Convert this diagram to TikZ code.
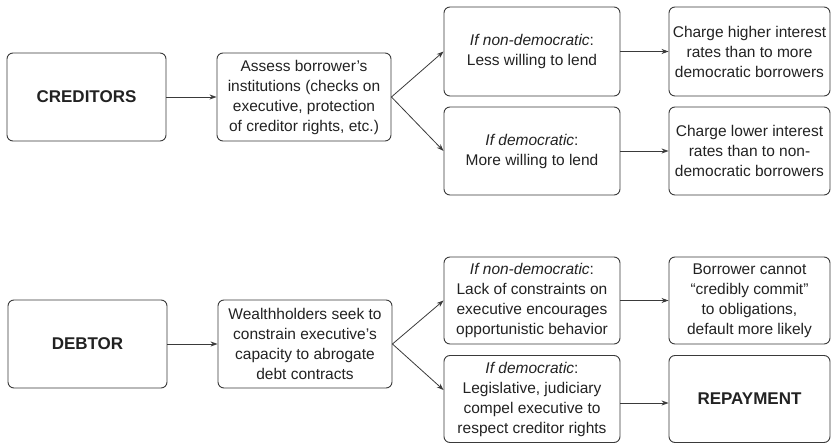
\documentclass[tikz,border=0pt]{standalone}
\usepackage{fontspec}
\setmainfont{Liberation Sans}
\usetikzlibrary{arrows.meta}
\definecolor{linec}{HTML}{3A3A3A}
\definecolor{textc}{HTML}{222222}
\begin{document}
\begin{tikzpicture}[x=1pt,y=-1pt,
  box/.style={draw=linec, line width=0.9pt, rounded corners=6pt, align=center,
    inner sep=0pt, text=textc, font=\fontsize{15.5}{20}\selectfont},
  bigbox/.style={box, font=\fontsize{17}{20}\selectfont\bfseries},
  arr/.style={draw=linec, line width=0.8pt, -{Stealth[length=7pt,width=5pt]}}]
\useasboundingbox (0,0) rectangle (831,443);
% top group
\node[bigbox, minimum width=159pt, minimum height=88pt] (cred) at (86.5,97) {CREDITORS};
\node[box, minimum width=174pt, minimum height=88pt] (assess) at (304,97)
  {Assess borrower’s\\institutions (checks on\\executive, protection\\of creditor rights, etc.)};
\node[box, minimum width=176pt, minimum height=89pt] (nd1) at (532,51.5)
  {\textit{If non-democratic}:\\Less willing to lend};
\node[box, minimum width=176pt, minimum height=88pt] (d1) at (532,151)
  {\textit{If democratic}:\\More willing to lend};
\node[box, minimum width=161pt, minimum height=89pt] (hi) at (749.5,51.5)
  {Charge higher interest\\rates than to more\\democratic borrowers};
\node[box, minimum width=161pt, minimum height=88pt] (lo) at (749.5,151)
  {Charge lower interest\\rates than to non-\\democratic borrowers};
\draw[arr] (cred) -- (assess);
\draw[arr] (assess.east) -- (nd1.west);
\draw[arr] (assess.east) -- (d1.west);
\draw[arr] (nd1) -- (hi);
\draw[arr] (d1) -- (lo);
% bottom group
\node[bigbox, minimum width=159pt, minimum height=88pt] (debtor) at (87.5,344) {DEBTOR};
\node[box, minimum width=174pt, minimum height=88pt] (wealth) at (305,344)
  {Wealthholders seek to\\constrain executive’s\\capacity to abrogate\\debt contracts};
\node[box, minimum width=176pt, minimum height=87pt] (nd2) at (532,300.5)
  {\textit{If non-democratic}:\\Lack of constraints on\\executive encourages\\opportunistic behavior};
\node[box, minimum width=176pt, minimum height=87pt] (d2) at (532,399)
  {\textit{If democratic}:\\Legislative, judiciary\\compel executive to\\respect creditor rights};
\node[box, minimum width=161pt, minimum height=87pt] (borrow) at (749.5,300.5)
  {Borrower cannot\\“credibly commit”\\to obligations,\\default more likely};
\node[bigbox, minimum width=161pt, minimum height=87pt] (repay) at (749.5,399) {REPAYMENT};
\draw[arr] (debtor) -- (wealth);
\draw[arr] (wealth.east) -- (nd2.west);
\draw[arr] (wealth.east) -- ([yshift=9pt]d2.west);
\draw[arr] (nd2) -- (borrow);
\draw[arr] ([yshift=-4pt]d2.east) -- ([yshift=-4pt]repay.west);
\end{tikzpicture}
\end{document}
